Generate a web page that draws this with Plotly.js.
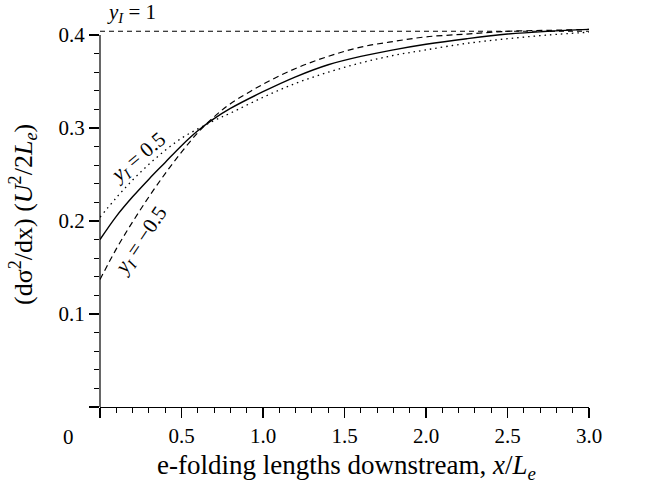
<!DOCTYPE html>
<html>
<head>
<meta charset="utf-8">
<script src="https://cdn.plot.ly/plotly-3.0.1.min.js"></script>
<style>html,body{margin:0;padding:0;background:#fff;}#chart{width:672px;height:489px;}</style>
</head>
<body>
<div id="chart"></div>
<script>
// x positions (e-folding lengths downstream, x/L_e)
var xVals = [0, 0.1, 0.2, 0.3, 0.4, 0.5, 0.6, 0.7, 0.8, 1.0, 1.2, 1.4, 1.6, 1.8, 2.0, 2.25, 2.5, 2.75, 3.0];
// y_I = 0 (solid)
var ySolid  = [0.180, 0.205, 0.226, 0.245, 0.263, 0.281, 0.297, 0.310, 0.321, 0.339, 0.355, 0.368, 0.377, 0.384, 0.390, 0.396, 0.401, 0.404, 0.406];
// y_I = 0.5 (dotted)
var yDotted = [0.204, 0.225, 0.244, 0.261, 0.276, 0.289, 0.299, 0.308, 0.316, 0.333, 0.348, 0.360, 0.370, 0.378, 0.384, 0.391, 0.396, 0.400, 0.403];
// y_I = -0.5 (dashed)
var yDashed = [0.137, 0.170, 0.199, 0.226, 0.251, 0.274, 0.295, 0.312, 0.326, 0.347, 0.364, 0.377, 0.387, 0.393, 0.398, 0.401, 0.404, 0.405, 0.406];
// y_I = 1 (horizontal dashed)
var xTop = [0, 3.0];
var yTop = [0.404, 0.404];

var xTickVals = [0, 0.5, 1.0, 1.5, 2.0, 2.5, 3.0];
var xTickText = ['', '0.5', '1.0', '1.5', '2.0', '2.5', '3.0'];
var yTickVals = [0, 0.1, 0.2, 0.3, 0.4];
var yTickText = ['', '0.1', '0.2', '0.3', '0.4'];

var FONT = 'Liberation Serif';
var M = {l: 100, r: 83, t: 24, b: 82};
var W = 672, H = 489;
var pw = W - M.l - M.r, ph = H - M.t - M.b;
function px(x) { return (x - M.l) / pw; }
function py(y) { return (H - M.b - y) / ph; }

var traces = [
  {x: xTop, y: yTop, mode: 'lines', line: {color: '#000', width: 1.1, dash: '5px,4px'}},
  {x: xVals, y: yDotted, mode: 'lines', line: {color: '#000', width: 1.3, dash: '1.5px,4px', shape: 'spline'}},
  {x: xVals, y: yDashed, mode: 'lines', line: {color: '#000', width: 1.2, dash: '6px,4px', shape: 'spline'}},
  {x: xVals, y: ySolid, mode: 'lines', line: {color: '#000', width: 1.4, shape: 'spline'}}
];

var layout = {
  width: W, height: H,
  margin: M,
  paper_bgcolor: '#fff', plot_bgcolor: '#fff',
  showlegend: false,
  font: {family: FONT, color: '#000', size: 21},
  xaxis: {
    range: [0, 3.0], showgrid: false, zeroline: false,
    showline: true, linecolor: '#000', linewidth: 1.2,
    tickmode: 'array', tickvals: xTickVals, ticktext: xTickText,
    ticks: 'outside', ticklen: 10, tickwidth: 1.2, tickcolor: '#000',
    minor: {dtick: 0.1, tick0: 0, ticks: 'outside', ticklen: 5, tickwidth: 1, tickcolor: '#000', showgrid: false},
    tickfont: {family: FONT, size: 21, color: '#000'}
  },
  yaxis: {
    range: [0, 383 / 930], showgrid: false, zeroline: false,
    showline: false,
    tickmode: 'array', tickvals: yTickVals, ticktext: yTickText,
    ticks: 'outside', ticklen: 10, tickwidth: 1.2, tickcolor: '#000',
    minor: {dtick: 0.02, tick0: 0, ticks: 'outside', ticklen: 5, tickwidth: 1, tickcolor: '#000', showgrid: false},
    tickfont: {family: FONT, size: 21, color: '#000'}
  },
  shapes: [
    {type: 'line', xref: 'paper', yref: 'y', x0: 0, x1: 0, y0: 0, y1: 0.4, line: {color: '#000', width: 1.2}}
  ],
  annotations: [
    {xref: 'paper', yref: 'paper', x: px(68), y: py(437), text: '0', showarrow: false, xanchor: 'center', yanchor: 'middle', font: {family: FONT, size: 21}},
    {xref: 'paper', yref: 'paper', x: px(346), y: py(467), text: 'e-folding lengths downstream, <i>x</i>/<i>L<sub>e</sub></i>', showarrow: false, xanchor: 'center', yanchor: 'middle', font: {family: FONT, size: 27}},
    {xref: 'paper', yref: 'paper', x: px(23), y: py(215), text: '(dσ<sup>2</sup>/dx) (<i>U</i><sup>2</sup>/2<i>L<sub>e</sub></i>)', textangle: -90, showarrow: false, xanchor: 'center', yanchor: 'middle', font: {family: FONT, size: 26}},
    {xref: 'paper', yref: 'paper', x: px(131), y: py(13), text: '<i>y<sub>I</sub></i> = 1', showarrow: false, xanchor: 'center', yanchor: 'middle', font: {family: FONT, size: 21}},
    {xref: 'paper', yref: 'paper', x: px(138), y: py(158), text: '<i>y<sub>I</sub></i> = 0.5', textangle: -40, showarrow: false, xanchor: 'center', yanchor: 'middle', font: {family: FONT, size: 21}},
    {xref: 'paper', yref: 'paper', x: px(141), y: py(241), text: '<i>y<sub>I</sub></i> = −0.5', textangle: -56, showarrow: false, xanchor: 'center', yanchor: 'middle', font: {family: FONT, size: 21}}
  ]
};

Plotly.newPlot('chart', traces, layout, {displayModeBar: false, staticPlot: true});
</script>
</body>
</html>
